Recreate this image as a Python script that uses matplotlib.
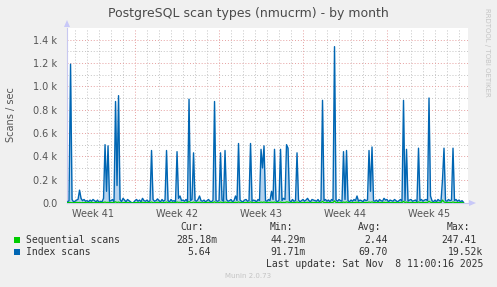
import numpy as np
import matplotlib
matplotlib.use("Agg")
import matplotlib.pyplot as plt
from matplotlib.patches import Polygon, Rectangle

nan = np.nan
# Data: one row per day (days relative to the first week boundary), 8 three-hour samples per row
days = list(range(-6, 28))
index_scans = [
    [nan, nan, nan, 10, 20, 1190, 30, 10],
    [15, 25, 30, 110, 40, 20, 30, 15],
    [20, 10, 25, 15, 30, 20, 10, 25],
    [5, 15, 10, 40, 500, 100, 490, 15],
    [20, 30, 10, 870, 150, 920, 30, 10],
    [40, 25, 10, 30, 20, 10, 0, 5],
    [20, 30, 15, 25, 10, 40, 20, 15],
    [25, 10, 20, 450, 30, 15, 20, 35],
    [20, 10, 30, 15, 25, 450, 20, 10],
    [30, 15, 20, 10, 440, 40, 60, 20],
    [25, 15, 30, 10, 890, 20, 30, 430],
    [20, 15, 30, 60, 20, 15, 25, 10],
    [20, 30, 15, 10, 25, 870, 20, 15],
    [20, 430, 25, 15, 450, 30, 15, 20],
    [30, 10, 20, 60, 20, 510, 25, 15],
    [10, 25, 30, 15, 20, 510, 15, 25],
    [20, 10, 30, 20, 460, 300, 490, 20],
    [15, 30, 20, 100, 30, 460, 20, 10],
    [25, 460, 20, 40, 30, 500, 470, 20],
    [10, 30, 15, 20, 430, 25, 10, 20],
    [30, 15, 25, 40, 20, 10, 30, 25],
    [20, 15, 30, 10, 25, 880, 20, 30],
    [15, 25, 10, 30, 20, 1340, 25, 15],
    [30, 20, 15, 440, 30, 450, 20, 10],
    [25, 15, 30, 20, 60, 15, 25, 20],
    [10, 30, 20, 25, 450, 100, 480, 20],
    [15, 25, 10, 30, 20, 15, 40, 25],
    [30, 10, 25, 20, 15, 30, 20, 10],
    [20, 30, 15, 880, 20, 460, 15, 25],
    [30, 15, 20, 25, 10, 470, 20, 30],
    [15, 25, 30, 20, 900, 60, 20, 10],
    [25, 10, 30, 20, 15, 200, 470, 20],
    [15, 30, 20, 25, 470, 20, 30, 15],
    [25, 10, 20, 5.64, nan, nan, nan, nan],
]
sequential_scans = [
    [nan, nan, nan, 3, 5, 4, 2, 3],
    [4, 6, 3, 5, 2, 4, 3, 5],
    [3, 2, 4, 6, 3, 2, 5, 4],
    [2, 4, 3, 5, 8, 4, 6, 3],
    [4, 3, 5, 10, 4, 8, 3, 2],
    [3, 5, 2, 4, 3, 2, 1, 2],
    [4, 3, 5, 2, 4, 6, 3, 4],
    [3, 5, 4, 8, 3, 2, 4, 6],
    [4, 2, 5, 3, 4, 8, 3, 2],
    [5, 3, 4, 2, 8, 5, 6, 3],
    [4, 2, 5, 3, 12, 4, 3, 8],
    [3, 4, 5, 6, 3, 2, 4, 3],
    [4, 5, 3, 2, 4, 10, 3, 2],
    [3, 8, 4, 3, 8, 5, 3, 4],
    [5, 2, 4, 6, 3, 9, 4, 3],
    [2, 4, 5, 3, 4, 9, 3, 4],
    [4, 2, 5, 3, 8, 5, 9, 4],
    [3, 5, 4, 7, 5, 8, 4, 2],
    [4, 8, 3, 5, 4, 9, 8, 3],
    [2, 5, 3, 4, 8, 4, 2, 3],
    [5, 3, 4, 6, 3, 2, 5, 4],
    [4, 3, 5, 2, 4, 14, 3, 5],
    [3, 4, 2, 5, 4, 18, 4, 3],
    [5, 4, 3, 8, 5, 9, 4, 2],
    [4, 3, 5, 4, 7, 3, 4, 3],
    [2, 5, 4, 4, 8, 5, 9, 4],
    [3, 4, 2, 5, 4, 3, 6, 4],
    [5, 2, 4, 3, 3, 5, 4, 2],
    [4, 5, 3, 14, 4, 8, 3, 4],
    [5, 3, 4, 4, 2, 9, 4, 5],
    [3, 4, 5, 4, 15, 6, 4, 2],
    [4, 2, 5, 4, 3, 25, 9, 4],
    [3, 5, 4, 4, 9, 4, 5, 3],
    [4, 2, 3, 0.285, nan, nan, nan, nan],
]
week_labels = ["Week 41", "Week 42", "Week 43", "Week 44", "Week 45"]
y_ticks = [0, 200, 400, 600, 800, 1000, 1200, 1400]
y_tick_labels = ["0.0", "0.2 k", "0.4 k", "0.6 k", "0.8 k", "1.0 k", "1.2 k", "1.4 k"]
legend_names = ["Sequential scans", "Index scans"]
legend_colors = ["#00cc00", "#0066b3"]
cur_vals = ["285.18m", "5.64"]
min_vals = ["44.29m", "91.71m"]
avg_vals = ["2.44", "69.70"]
max_vals = ["247.41", "19.52k"]

W, H = 497, 287
fig = plt.figure(figsize=(W / 100, H / 100), dpi=100, facecolor="#f0f0f0")

def fx(px):
    return px / W

def fy(py):
    return 1 - py / H

ax = fig.add_axes([fx(67), 84 / H, 401 / W, 175 / H])
ax.set_facecolor("white")
x0, x1 = -5.67, 27.75
ax.set_xlim(x0, x1)
ax.set_ylim(0, 1500)

# grid
grid_gray = "#c4c4c4"
grid_red = "#e6a0a0"
dot = (0, (1, 2))
for d in range(-5, 28):
    if d % 7 != 0:
        ax.axvline(d, color=grid_gray, lw=0.7, ls=dot, zorder=1)
for v in range(100, 1500, 200):
    ax.axhline(v, color=grid_gray, lw=0.7, ls=dot, zorder=1)
for d in [0, 7, 14, 21]:
    ax.axvline(d, color=grid_red, lw=0.7, ls=dot, zorder=1)
for v in y_ticks[1:]:
    ax.axhline(v, color=grid_red, lw=0.7, ls=dot, zorder=1)

t = (np.array(days)[:, None] + np.arange(8)[None, :] * 0.125).ravel()
idx = np.array(index_scans, dtype=float).ravel()
seq = np.array(sequential_scans, dtype=float).ravel()

ax.fill_between(t, 0, idx, color="#b5d3ee", lw=0, zorder=2)
ax.plot(t, idx, color=legend_colors[1], lw=1.0, zorder=3)
ax.plot(t, seq, color=legend_colors[0], lw=0.9, zorder=4)

ax.set_yticks(y_ticks)
ax.set_yticklabels(y_tick_labels)
ax.set_xticks([-3.5, 3.5, 10.5, 17.5, 24.5])
ax.set_xticklabels(week_labels)
ax.tick_params(axis="both", length=0, labelsize=7, colors="#555555")
ax.tick_params(axis="y", pad=7)
ax.tick_params(axis="x", pad=4)
for s in ["top", "right"]:
    ax.spines[s].set_visible(False)
for s in ["left", "bottom"]:
    ax.spines[s].set_color("#c8c8f0")
    ax.spines[s].set_linewidth(0.8)
fig.text(fx(11), fy(115), "Scans / sec", rotation=90, ha="center", va="center",
         fontsize=7, color="#555555")

# arrows
fig.add_artist(Polygon([[fx(64), fy(27)], [fx(70), fy(27)], [fx(67), fy(20)]],
                       closed=True, transform=fig.transFigure, color="#c8c8f8", lw=0))
fig.add_artist(Polygon([[fx(469), fy(200)], [fx(469), fy(206)], [fx(476), fy(203)]],
                       closed=True, transform=fig.transFigure, color="#c8c8f8", lw=0))

fig.text(fx(248), fy(14), "PostgreSQL scan types (nmucrm) - by month", ha="center", va="center",
         fontsize=9, color="#4a4a4a")
fig.text(fx(487), fy(52), "RRDTOOL / TOBI OETIKER", rotation=270, ha="center", va="center",
         fontsize=5, color="#c4c4c4")

mono = "DejaVu Sans Mono"
tc = "#333333"
fig.text(fx(204), fy(227), "Cur:", ha="right", va="center", fontsize=7, family=mono, color=tc)
fig.text(fx(293), fy(227), "Min:", ha="right", va="center", fontsize=7, family=mono, color=tc)
fig.text(fx(381), fy(227), "Avg:", ha="right", va="center", fontsize=7, family=mono, color=tc)
fig.text(fx(470), fy(227), "Max:", ha="right", va="center", fontsize=7, family=mono, color=tc)
rows_y = [240, 252]
cur_x = [217, 211]
max_x = [477, 483]
for i in range(2):
    y = rows_y[i]
    fig.add_artist(Rectangle((fx(14), fy(y + 3)), 6 / W, 6 / H, transform=fig.transFigure,
                             color=legend_colors[i], lw=0))
    fig.text(fx(26), fy(y), legend_names[i], ha="left", va="center", fontsize=7, family=mono, color=tc)
    fig.text(fx(cur_x[i]), fy(y), cur_vals[i], ha="right", va="center", fontsize=7, family=mono, color=tc)
    fig.text(fx(306), fy(y), min_vals[i], ha="right", va="center", fontsize=7, family=mono, color=tc)
    fig.text(fx(388), fy(y), avg_vals[i], ha="right", va="center", fontsize=7, family=mono, color=tc)
    fig.text(fx(max_x[i]), fy(y), max_vals[i], ha="right", va="center", fontsize=7, family=mono, color=tc)
fig.text(fx(483), fy(264), "Last update: Sat Nov  8 11:00:16 2025", ha="right", va="center",
         fontsize=7, family=mono, color=tc)
fig.text(fx(248), fy(276), "Munin 2.0.73", ha="center", va="center", fontsize=5, color="#c4c4c4")

fig.savefig("out.png", dpi=100, facecolor=fig.get_facecolor())
